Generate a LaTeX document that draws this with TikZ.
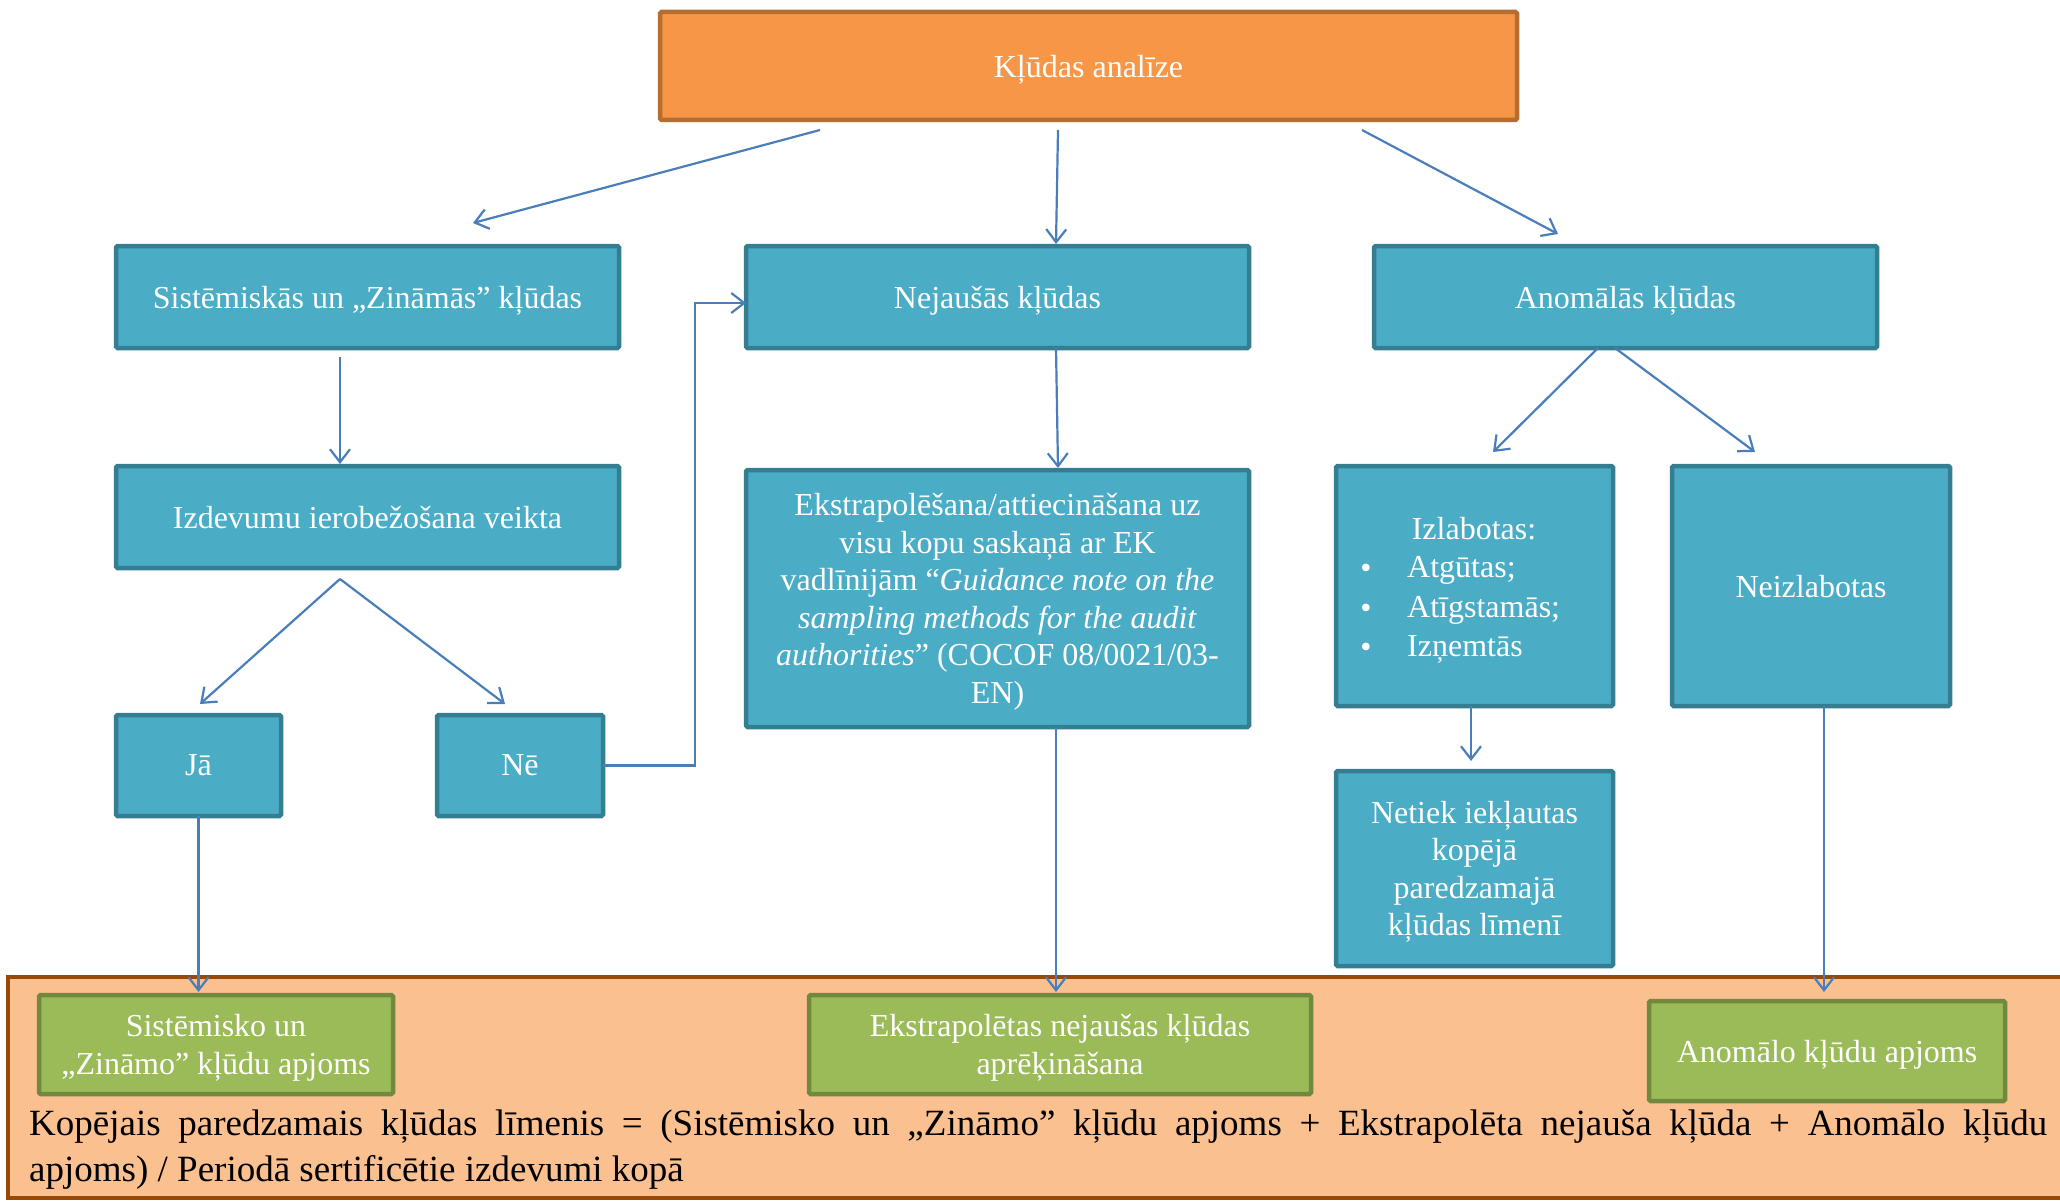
\documentclass[tikz,border=0pt]{standalone}
\usepackage{fontspec}
\setmainfont{Liberation Serif}
\usetikzlibrary{arrows.meta,calc}

\definecolor{tealfill}{HTML}{4BACC6}
\definecolor{tealline}{HTML}{357D91}
\definecolor{orfill}{HTML}{F79646}
\definecolor{orline}{HTML}{B66D31}
\definecolor{grfill}{HTML}{9BBB59}
\definecolor{grline}{HTML}{71893F}
\definecolor{peach}{HTML}{FAC090}
\definecolor{brownline}{HTML}{984807}
\definecolor{arrowblue}{HTML}{4A7EBB}

\tikzset{
  boxbase/.style={draw, line width=4.5pt, rounded corners=1.5pt, text=white,
    align=center, inner sep=0pt, outer sep=0pt, text depth=-2pt,
    font=\fontsize{32}{37.5}\selectfont},
  tealbox/.style={boxbase, fill=tealfill, draw=tealline},
  orbox/.style={boxbase, fill=orfill, draw=orline},
  grbox/.style={boxbase, fill=grfill, draw=grline},
  boxtext/.style={text=white, inner sep=0pt, font=\fontsize{32}{37.5}\selectfont},
  arr/.style={draw=arrowblue, line width=2.2pt,
    -{Straight Barb[length=13pt,width=20pt,line width=2.2pt]}},
}

\begin{document}
\begin{tikzpicture}[x=1pt,y=-1pt]
\useasboundingbox (0,0) rectangle (2060,1201);

% summary band at the bottom
\path[fill=peach, draw=brownline, line width=4pt] (8,977) rectangle (2075,1198);

% top level
\node[orbox, minimum width=857pt, minimum height=108pt] (top) at (1088.5,66) {Kļūdas analīze};

% second level
\node[tealbox, minimum width=503pt, minimum height=102pt] (sys) at (367.5,297) {Sistēmiskās un „Zināmās” kļūdas};
\node[tealbox, minimum width=503pt, minimum height=102pt] (rnd) at (997.5,297) {Nejaušās kļūdas};
\node[tealbox, minimum width=503pt, minimum height=102pt] (anom) at (1625.5,297) {Anomālās kļūdas};

% third level
\node[tealbox, minimum width=503pt, minimum height=102pt] (izd) at (367.5,517) {Izdevumu ierobežošana veikta};
\node[tealbox, minimum width=503pt, minimum height=257pt] (ext) at (997.5,598.5)
  {Ekstrapolēšana/attiecināšana uz\\ visu kopu saskaņā ar EK\\ vadlīnijām “\textit{Guidance note on the}\\ \textit{sampling methods for the audit}\\ \textit{authorities}” (COCOF 08/0021/03-\\ EN)};
\node[tealbox, minimum width=277pt, minimum height=240pt] (izl) at (1474.5,586) {};
\node[tealbox, minimum width=278pt, minimum height=240pt] (neiz) at (1811,586) {Neizlabotas};

% contents of the corrected-errors box
\node[boxtext] (izlh) at (1474,529) {Izlabotas:};
\node[boxtext] (b1) at (1366,571) {•};
\node[boxtext] (b2) at (1366,611) {•};
\node[boxtext] (b3) at (1366,650) {•};
\node[boxtext, anchor=west] (i1) at (1407,570) {Atgūtas;};
\node[boxtext, anchor=west] (i2) at (1407,610) {Atīgstamās;};
\node[boxtext, anchor=west] (i3) at (1407,649) {Izņemtās};

% fourth level
\node[tealbox, minimum width=165pt, minimum height=101pt] (ja) at (198.5,765.5) {Jā};
\node[tealbox, minimum width=166pt, minimum height=101pt] (ne) at (520,765.5) {Nē};
\node[tealbox, minimum width=277pt, minimum height=195pt] (net) at (1474.5,868.5)
  {Netiek iekļautas\\ kopējā\\ paredzamajā\\ kļūdas līmenī};

% result boxes
\node[grbox, minimum width=354pt, minimum height=99pt] (g1) at (216,1044.5) {Sistēmisko un\\ „Zināmo” kļūdu apjoms};
\node[grbox, minimum width=502pt, minimum height=99pt] (g2) at (1060,1044.5) {Ekstrapolētas nejaušas kļūdas\\ aprēķināšana};
\node[grbox, minimum width=356pt, minimum height=100pt] (g3) at (1827,1051) {Anomālo kļūdu apjoms};

% formula
\node[anchor=base west, inner sep=0pt, font=\fontsize{37}{45}\selectfont] (f1) at (29,1135)
  {\makebox[2018pt][s]{Kopējais paredzamais kļūdas līmenis = (Sistēmisko un „Zināmo” kļūdu apjoms + Ekstrapolēta nejauša kļūda + Anomālo kļūdu}};
\node[anchor=base west, inner sep=0pt, font=\fontsize{37}{45}\selectfont] (f2) at (29,1181)
  {apjoms) / Periodā sertificētie izdevumi kopā};

% connectors
\draw[arr] ($(top.south)+(-268.5,10)$) -- ($(sys.north)+(105.5,-23)$);
\draw[arr] ($(top.south)+(-30.5,10)$) -- ($(rnd.north)+(58.5,-2)$);
\draw[arr] ($(top.south)+(273.5,10)$) -- ($(anom.north)+(-67.5,-12)$);

\draw[arr] ($(sys.south)+(-27.5,9)$) -- ($(izd.north)+(-27.5,-2)$);
\coordinate (split) at ($(izd.south)+(-27.5,11)$);
\draw[arr] (split) -- ($(ja.north)+(1.5,-11)$);
\draw[arr] (split) -- ($(ne.north)+(-15,-11)$);
\draw[arr] (ne.east) -- ++(92,0) |- ($(rnd.west)+(0,6)$);

\draw[arr] ($(rnd.south)+(58.5,0)$) -- ($(ext.north)+(60.5,-2)$);
\draw[arr] ($(anom.south)+(-27.5,0)$) -- ($(izl.north)+(18.5,-14)$);
\draw[arr] ($(anom.south)+(-10.5,0)$) -- ($(neiz.north)+(-56,-14)$);
\draw[arr] ($(izl.south)+(-3.5,0)$) -- ($(net.north)+(-3.5,-10)$);

\draw[arr] (ja.south) -- ($(g1.north)+(-17.5,-3)$);
\draw[arr] ($(ext.south)+(58.5,0)$) -- ($(g2.north)+(-4,-3)$);
\draw[arr] ($(neiz.south)+(13,0)$) -- ($(g3.north)+(-3,-9)$);
\end{tikzpicture}
\end{document}
